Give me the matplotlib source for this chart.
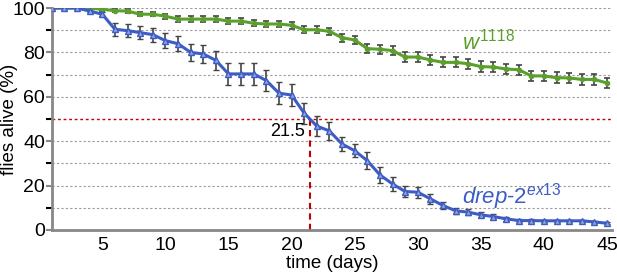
import numpy as np
import matplotlib
matplotlib.use("Agg")
import matplotlib.pyplot as plt

plt.rcParams['font.family'] = ['Liberation Sans', 'DejaVu Sans']
plt.rcParams['mathtext.fontset'] = 'custom'
plt.rcParams['mathtext.it'] = 'Liberation Sans:italic'
plt.rcParams['mathtext.rm'] = 'Liberation Sans'

days = list(range(1, 46))
w1118 = [100, 100, 100, 99.9, 99.4, 98.8, 98.6, 97.2, 97.2, 96.3,
         95, 95, 95, 95, 94.1, 94.1, 93.1, 92.8, 92.8, 92.2,
         90.2, 90.2, 89.5, 86.6, 85.6, 81.7, 81.4, 80.8, 77.9, 77.9,
         76.6, 75.5, 75.5, 74.9, 73.6, 73.4, 72.5, 72.2, 69.4, 69.4,
         68.6, 68.5, 67.8, 67.8, 66.2]
w1118_err = [0, 0, 0, 0.5, 0.7, 0.8, 0.9, 1.0, 1.0, 1.1,
             1.2, 1.2, 1.2, 1.2, 1.3, 1.3, 1.4, 1.4, 1.4, 1.5,
             1.6, 1.6, 1.7, 1.9, 2.0, 2.1, 2.1, 2.1, 2.2, 2.2,
             2.2, 2.2, 2.2, 2.3, 2.3, 2.3, 2.3, 2.3, 2.4, 2.4,
             2.4, 2.4, 2.4, 2.4, 2.4]
drep2 = [100, 100, 100, 98.6, 97.2, 90.4, 89.8, 88.9, 88.0, 85.3,
         83.9, 80.0, 79.3, 76.4, 70.3, 70.3, 70.3, 67.3, 61.6, 60.8,
         52.6, 46.8, 44.6, 38.7, 35.7, 31.2, 24.8, 20.7, 17.3, 17.0,
         14.0, 11.0, 8.6, 8.0, 6.8, 6.0, 5.0, 4.2, 4.2, 4.1,
         4.1, 4.1, 4.1, 3.6, 3.0]
drep2_err = [0, 0, 0, 0.5, 0.8, 2.8, 3.0, 3.0, 3.2, 3.3,
             3.5, 3.8, 4.0, 4.2, 4.9, 4.9, 4.9, 4.8, 5.0, 5.0,
             4.8, 4.5, 4.2, 3.0, 2.8, 3.8, 3.5, 3.0, 2.5, 2.5,
             2.2, 1.5, 1.3, 1.2, 1.2, 1.2, 0.8, 0.6, 0.6, 0.5,
             0.5, 0.5, 0.5, 0.5, 0.5]
half_life = 21.5

green = '#5ba02d'
blue = '#3d5cc4'

fig = plt.figure(figsize=(6.17, 2.76), dpi=100)
ax = fig.add_axes([0.084, 0.167, 0.908, 0.804])

for y in range(10, 101, 10):
    if y == 50:
        continue
    ax.axhline(y, color='#999999', ls=(0, (2, 2)), lw=0.8, zorder=0)
ax.axhline(50, color='#c00000', ls=(0, (2, 2)), lw=1.0, zorder=1)
ax.plot([half_life, half_life], [0, 50], color='#c00000', ls=(0, (3, 2)), lw=1.5, zorder=1)

ax.errorbar(days, w1118, yerr=w1118_err, color=green, lw=2.2, marker='o', ms=3,
            mfc=green, mec=green, ecolor='#444444', elinewidth=1.2, capsize=2.5,
            capthick=1.2, zorder=3)
ax.errorbar(days, drep2, yerr=drep2_err, color=blue, lw=2.2, marker='^', ms=4.5,
            mfc='#8fa3e0', mec=blue, mew=1, ecolor='#444444', elinewidth=1.2,
            capsize=2.5, capthick=1.2, zorder=3)

ax.text(33.5, 81.5, r'$\mathit{w}^{\mathit{1118}}$', color=green, fontsize=16)
ax.text(33.5, 12, r'$\mathit{drep}$-$\mathit{2}^{\mathit{ex13}}$', color=blue, fontsize=16)
ax.text(21.1, 42.5, '21.5', ha='right', fontsize=13)

ax.set_xlim(1, 45.4)
ax.set_ylim(0, 100)
ax.set_xticks([5, 10, 15, 20, 25, 30, 35, 40, 45])
ax.set_yticks([0, 20, 40, 60, 80, 100])
ax.set_yticks([10, 30, 50, 70, 90], minor=True)
ax.tick_params(axis='both', labelsize=14, colors='#888888', labelcolor='black')
ax.tick_params(axis='x', length=0, pad=5)
ax.tick_params(axis='y', which='both', length=4, width=1.5, pad=1)

for s in ['top', 'right']:
    ax.spines[s].set_visible(False)
for s in ['left', 'bottom']:
    ax.spines[s].set_color('#888888')
    ax.spines[s].set_linewidth(2)

ax.set_xlabel('time (days)', fontsize=13.5, labelpad=1)
ax.set_ylabel('flies alive (%)', fontsize=13.5)
ax.yaxis.set_label_coords(-0.06, 0.5)

fig.savefig('out.png', dpi=100)
